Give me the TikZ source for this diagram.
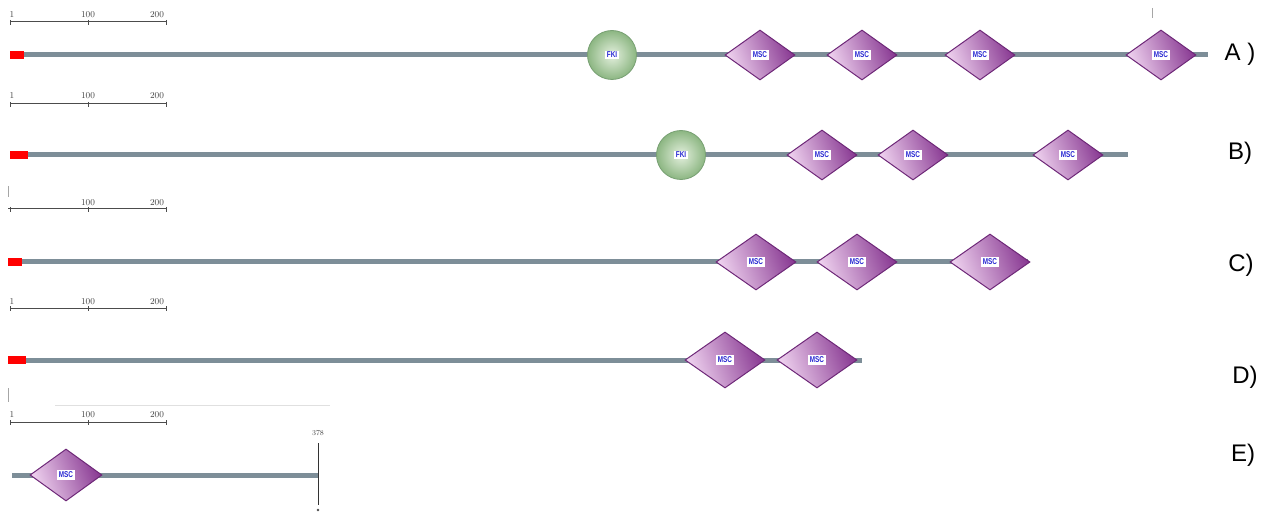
\documentclass[tikz,border=0pt]{standalone}
\usepackage{fontspec}
\setsansfont{Liberation Sans}
\usepackage{xcolor}
\usepackage{tikz}
\usetikzlibrary{shapes.geometric,shadings}
\definecolor{bbgray}{RGB}{125,142,152}
\definecolor{mscdark}{RGB}{135,55,145}
\definecolor{msclight}{RGB}{240,212,240}
\definecolor{mscedge}{RGB}{110,40,120}
\definecolor{fkidark}{RGB}{140,182,130}
\definecolor{fkilight}{RGB}{228,240,222}
\definecolor{fkiedge}{RGB}{120,160,115}
\definecolor{lbblue}{RGB}{40,40,210}
\tikzstyle{backbone}=[draw=bbgray,line width=5pt]
\tikzstyle{signal}=[fill=red,draw=none,minimum width=14pt,minimum height=8pt,inner sep=0pt]
\tikzstyle{mscdomain}=[diamond,shading=axis,left color=msclight,right color=mscdark,shading angle=110,draw=mscedge,line width=1pt,minimum width=70pt,minimum height=50pt,inner sep=0pt]
\tikzstyle{bigmsc}=[mscdomain,minimum width=80pt,minimum height=56pt]
\tikzstyle{fkidomain}=[circle,shading=radial,inner color=fkilight,outer color=fkidark,draw=fkiedge,line width=0.8pt,minimum size=49pt,inner sep=0pt]
\tikzstyle{scalebar}=[draw=black!70,line width=1pt]
\tikzstyle{scaletext}=[font=\fontsize{9}{9}\selectfont,text=black!75,inner sep=0pt]
\tikzstyle{rowlabel}=[font=\sffamily\fontsize{24}{24}\selectfont,inner sep=0pt]
\tikzstyle{faint}=[draw=black!35,line width=0.8pt]
\newcommand{\msclabel}{\colorbox{white}{\fontsize{8.5}{8.5}\selectfont\sffamily\bfseries\textcolor{lbblue}{\scalebox{0.75}[1]{MSC}}}}
\newcommand{\fkilabel}{\colorbox{white}{\fontsize{8.5}{8.5}\selectfont\sffamily\bfseries\textcolor{lbblue}{\scalebox{0.75}[1]{FKI}}}}
\setlength{\fboxsep}{1.5pt}

\begin{document}
\begin{tikzpicture}[x=1pt,y=-1pt]
\useasboundingbox (0,0) rectangle (1267,513);

%scale bars
	\foreach \row/\y/\xs in {A/22/10, B/104/10, C/209/8, D/308/10, E/422/10}{
		\coordinate (\row bar0) at (\xs,\y);
		\coordinate (\row bar1) at (166,\y);
		\draw[scalebar] (\row bar0) -- (\row bar1);
		\foreach \xx in {10,88,166}
			\draw[scalebar,line width=0.8pt] (\xx,\y-2) -- ++(0,5);
	}
	\foreach \y in {15,96,302,415}
		\node[scaletext] at (12,\y) {1};
	\foreach \y in {15,96,203,302,415}{
		\node[scaletext] at (88,\y) {100};
		\node[scaletext] at (157,\y) {200};
	}

% small marks
	\draw[faint] (1152,8) -- (1152,18);
	\draw[faint] (8,186) -- (8,197);
	\draw[faint] (8,388) -- (8,402);
	\draw[draw=black!12,line width=0.8pt] (55,405) -- (330,405);

%row A
	\coordinate (Abeg) at (10,55);
	\coordinate (Aend) at (1208,55);
	\path[backbone] (Abeg) -- (Aend);
	\node[signal,anchor=west] (Asig) at (Abeg) {};
	\node[fkidomain] (Afki) at (612,55) {\fkilabel};
	\foreach \pos/\name in {{(760,55)/Am1}, {(862,55)/Am2}, {(980,55)/Am3}, {(1161,55)/Am4}}
		\node[mscdomain] (\name) at \pos {\msclabel};
	\node[rowlabel] (Alab) at (1240,54) {A )};

%row B
	\coordinate (Bbeg) at (10,155);
	\coordinate (Bend) at (1128,155);
	\path[backbone] (Bbeg) -- (Bend);
	\node[signal,anchor=west,minimum width=18pt] (Bsig) at (Bbeg) {};
	\node[fkidomain] (Bfki) at (681,155) {\fkilabel};
	\foreach \pos/\name in {{(822,155)/Bm1}, {(913,155)/Bm2}, {(1068,155)/Bm3}}
		\node[mscdomain] (\name) at \pos {\msclabel};
	\node[rowlabel] (Blab) at (1240,153) {B)};

%row C
	\coordinate (Cbeg) at (8,262);
	\coordinate (Cend) at (1028,262);
	\path[backbone] (Cbeg) -- (Cend);
	\node[signal,anchor=west] (Csig) at (Cbeg) {};
	\foreach \pos/\name in {{(756,262)/Cm1}, {(857,262)/Cm2}, {(990,262)/Cm3}}
		\node[bigmsc] (\name) at \pos {\msclabel};
	\node[rowlabel] (Clab) at (1241,265) {C)};

%row D
	\coordinate (Dbeg) at (8,360);
	\coordinate (Dend) at (862,360);
	\path[backbone] (Dbeg) -- (Dend);
	\node[signal,anchor=west,minimum width=18pt] (Dsig) at (Dbeg) {};
	\foreach \pos/\name in {{(725,360)/Dm1}, {(817,360)/Dm2}}
		\node[bigmsc] (\name) at \pos {\msclabel};
	\node[rowlabel] (Dlab) at (1245,377) {D)};

%row E
	\coordinate (Ebeg) at (12,475);
	\coordinate (Eend) at (318,475);
	\path[backbone] (Ebeg) -- (Eend);
	\node[mscdomain,minimum width=72pt,minimum height=52pt] (Em1) at (66,475) {\msclabel};
	\coordinate (Etop) at (318,443);
	\coordinate (Ebot) at (318,505);
	\draw[draw=black!80,line width=1pt] (Etop) -- (Ebot);
	\node[scaletext,font=\fontsize{7.5}{7.5}\selectfont] (Elen) at (318,433) {378};
	\fill[black!70] (318,510) circle (1.3pt);
	\node[rowlabel] (Elab) at (1243,455) {E)};

\end{tikzpicture}
\end{document}
